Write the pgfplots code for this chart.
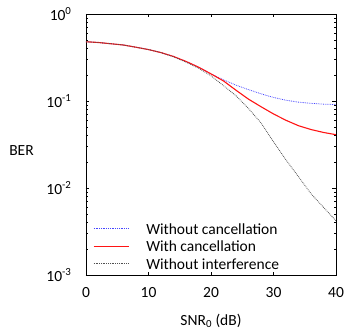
\documentclass[border=0pt]{standalone}
\usepackage{pgfplots}
\pgfplotsset{compat=1.18}
\usepackage{fontspec}
\setmainfont{Carlito}
\definecolor{cblue}{RGB}{70,70,255}
\definecolor{cred}{RGB}{255,20,20}
\definecolor{cgray}{RGB}{80,80,80}
\newcommand{\lgs}{\hspace{9bp}\rule[-3bp]{0pt}{16bp}}
\begin{document}
\begin{tikzpicture}[font=\fontsize{15.5bp}{19bp}\selectfont]
\begin{semilogyaxis}[
  scale only axis,
  width=250bp, height=261bp,
  xmin=0, xmax=40, ymin=1e-3, ymax=1,
  xtick={0,10,20,30,40},
  ytick={1e-3,1e-2,1e-1,1},
  yticklabels={10\textsuperscript{-3},10\textsuperscript{-2},10\textsuperscript{-1},10\textsuperscript{0}},
  /pgf/number format/assume math mode=true,
  tick align=inside,
  major tick length=3.5bp,
  minor tick length=2bp,
  tick style={black, line width=0.6pt},
  axis line style={black, line width=0.8pt},
  ticklabel style={font=\fontsize{15.5bp}{19bp}\selectfont},
  yticklabel style={xshift=-11bp},
  xticklabel style={yshift=-9bp},
  xlabel={SNR\textsubscript{0} (dB)},
  xlabel style={at={(axis description cs:0.5,0)}, anchor=center, yshift=-46bp},
  ylabel={BER},
  ylabel style={rotate=-90, at={(axis description cs:0,0.5)}, anchor=center, xshift=-64.5bp, yshift=-6.5bp},
  legend cell align=left,
  legend style={draw=none, fill=none, at={(0,0)}, anchor=south west, xshift=4bp, yshift=0bp,
    font=\fontsize{15.5bp}{19bp}\selectfont, row sep=-1bp,
    nodes={inner xsep=8bp}},
  legend image code/.code={\draw[#1] (0bp,0bp) -- (35bp,0bp);},
]
\addplot[cblue, densely dotted, line width=0.8pt] coordinates {
(0,0.48) (2,0.47) (4,0.455) (6,0.44) (8,0.415) (10,0.39) (12,0.36) (14,0.325) (16,0.285) (18,0.245)
(20,0.205) (22,0.175) (24,0.152) (26,0.135) (28,0.121) (30,0.11) (32,0.102) (34,0.097) (36,0.094) (38,0.092) (40,0.091)};
\addlegendentry{\lgs Without cancellation}
\addplot[cred, line width=1.1pt] coordinates {
(0,0.48) (2,0.47) (4,0.455) (6,0.44) (8,0.415) (10,0.39) (12,0.36) (14,0.325) (16,0.285) (18,0.245)
(20,0.205) (22,0.170) (24,0.133) (26,0.105) (28,0.086) (30,0.071) (32,0.060) (34,0.052) (36,0.047) (38,0.0435) (40,0.041)};
\addlegendentry{\lgs With cancellation}
\addplot[cgray, densely dotted, line width=0.8pt] coordinates {
(0,0.48) (2,0.47) (4,0.455) (6,0.44) (8,0.415) (10,0.39) (12,0.36) (14,0.322) (16,0.28) (18,0.238)
(20,0.195) (22,0.150) (24,0.115) (26,0.082) (28,0.056) (30,0.034) (32,0.021) (34,0.0135) (36,0.0086) (38,0.006) (40,0.0042)};
\addlegendentry{\lgs Without interference}
\end{semilogyaxis}
\pgfresetboundingbox
\path ([shift={(-86bp,-54bp)}]current axis.south west) rectangle ([shift={(8bp,14bp)}]current axis.north east);
\end{tikzpicture}
\end{document}
